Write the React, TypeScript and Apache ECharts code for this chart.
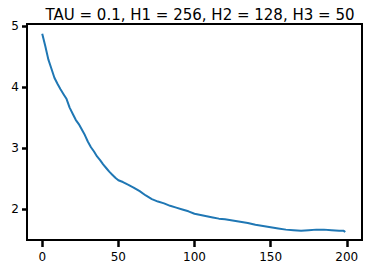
import React, { useEffect, useRef } from "react";
import * as echarts from "echarts";

const titleText = "TAU = 0.1, H1 = 256, H2 = 128, H3 = 50";
const epochs = [0, 2, 4, 6, 8, 10, 12, 14, 16, 18, 20, 22, 24, 26, 28, 30, 32, 34, 36, 38, 40, 42, 44, 46, 48, 50, 53, 56, 60, 64, 68, 72, 76, 80, 84, 88, 92, 96, 100, 104, 108, 112, 116, 120, 125, 130, 135, 140, 145, 150, 155, 160, 165, 170, 175, 180, 185, 190, 195, 198, 199];
const losses = [4.87, 4.67, 4.45, 4.3, 4.15, 4.05, 3.96, 3.88, 3.8, 3.66, 3.56, 3.46, 3.39, 3.3, 3.21, 3.1, 3.01, 2.94, 2.86, 2.8, 2.73, 2.67, 2.61, 2.56, 2.51, 2.47, 2.44, 2.4, 2.35, 2.29, 2.22, 2.16, 2.12, 2.09, 2.05, 2.02, 1.99, 1.96, 1.92, 1.9, 1.88, 1.86, 1.84, 1.83, 1.81, 1.79, 1.77, 1.74, 1.72, 1.7, 1.68, 1.66, 1.65, 1.64, 1.65, 1.66, 1.66, 1.65, 1.64, 1.64, 1.62];
const xTicks = [0, 50, 100, 150, 200];
const yTicks = [2, 3, 4, 5];

export default function App() {
  const ref = useRef<HTMLDivElement>(null);
  useEffect(() => {
    if (!ref.current) return;
    const chart = echarts.init(ref.current, null, { renderer: "svg" });
    const font = "DejaVu Sans";
    chart.setOption({
      animation: false,
      backgroundColor: "#ffffff",
      title: {
        text: titleText,
        left: 195,
        textAlign: "center",
        top: 2,
        textStyle: { fontFamily: font, fontSize: 15, fontWeight: "normal", color: "#000" },
      },
      grid: {
        left: 27, right: 7, top: 24, bottom: 31,
        show: true, borderColor: "#000", borderWidth: 2, backgroundColor: "transparent",
      },
      xAxis: {
        type: "value",
        min: -10,
        max: 210,
        splitLine: { show: false },
        axisLine: { show: false, onZero: false },
        axisTick: { show: true, customValues: xTicks, length: 7, lineStyle: { color: "#000", width: 2.5 } },
        axisLabel: { customValues: xTicks, fontFamily: font, fontSize: 12, color: "#000", margin: 11 },
      },
      yAxis: {
        type: "value",
        min: 1.49,
        max: 5.03,
        splitLine: { show: false },
        axisLine: { show: false, onZero: false },
        axisTick: { show: true, customValues: yTicks, length: 5, lineStyle: { color: "#000", width: 2.5 } },
        axisLabel: { customValues: yTicks, fontFamily: font, fontSize: 12, color: "#000", margin: 8 },
      },
      series: [
        {
          type: "line",
          data: epochs.map((e, i) => [e, losses[i]]),
          showSymbol: false,
          lineStyle: { color: "#1f77b4", width: 2 },
        },
      ],
    });
    return () => chart.dispose();
  }, []);
  return <div ref={ref} style={{ width: 369, height: 271, position: "absolute", left: 0, top: 0 }} />;
}
